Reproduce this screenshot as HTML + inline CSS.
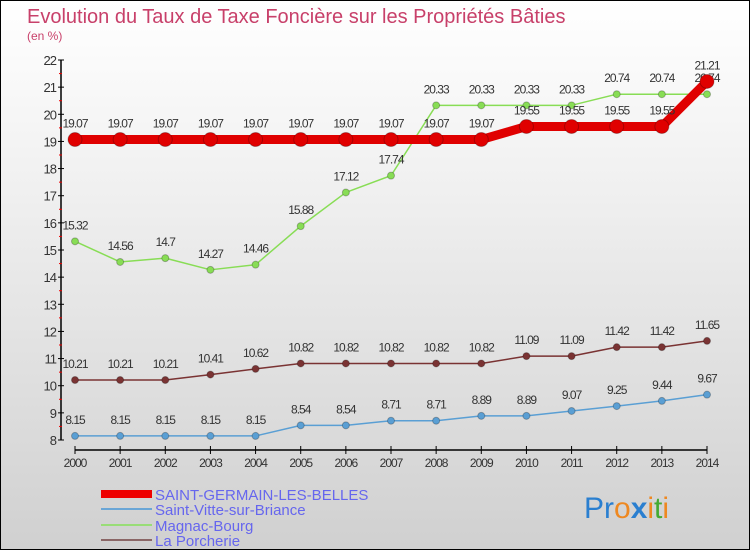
<!DOCTYPE html>
<html><head><meta charset="utf-8"><style>
body{margin:0}
#c{position:relative;width:748px;height:548px;border:1px solid #000;background:linear-gradient(#fff,#f2f2f2 30%,#d0d0d0);font-family:"Liberation Sans",sans-serif;overflow:hidden}
</style></head><body>
<div id="c">
<svg id="s" width="748" height="548" xmlns="http://www.w3.org/2000/svg">
<text x="26" y="22" font-size="20" fill="#c8406a">Evolution du Taux de Taxe Foncière sur les Propriétés Bâties</text>
<text x="26" y="39" font-size="12" fill="#c8406a">(en %)</text>
<g id="axes"></g><g id="series"></g>
<g>
<rect x="100" y="489" width="51" height="8" fill="#e00"/>
<text x="154" y="499" font-size="15" fill="#6666ee">SAINT-GERMAIN-LES-BELLES</text>
<rect x="100" y="507" width="51" height="2" fill="#6aa6d6"/>
<text x="154" y="514" font-size="15" fill="#6666ee">Saint-Vitte-sur-Briance</text>
<rect x="100" y="523" width="51" height="2" fill="#99dd77"/>
<text x="154" y="530" font-size="15" fill="#6666ee">Magnac-Bourg</text>
<rect x="100" y="538" width="51" height="2" fill="#8a6666"/>
<text x="154" y="545" font-size="15" fill="#6666ee">La Porcherie</text>
</g>
<text x="583" y="517" font-size="30"><tspan fill="#2a7fd0">Pr</tspan><tspan fill="#ee8820">o</tspan><tspan fill="#2a7fd0" font-weight="bold">x</tspan><tspan fill="#ee8820">i</tspan><tspan fill="#44aa33">t</tspan><tspan fill="#ee8820">i</tspan></text>
</svg></div>
<script>
const years=[2000,2001,2002,2003,2004,2005,2006,2007,2008,2009,2010,2011,2012,2013,2014];
const yTicks=[8,9,10,11,12,13,14,15,16,17,18,19,20,21,22];
const stGermain=[19.07,19.07,19.07,19.07,19.07,19.07,19.07,19.07,19.07,19.07,19.55,19.55,19.55,19.55,21.21];
const stVitte=[8.15,8.15,8.15,8.15,8.15,8.54,8.54,8.71,8.71,8.89,8.89,9.07,9.25,9.44,9.67];
const magnac=[15.32,14.56,14.7,14.27,14.46,15.88,17.12,17.74,20.33,20.33,20.33,20.33,20.74,20.74,20.74];
const porcherie=[10.21,10.21,10.21,10.41,10.62,10.82,10.82,10.82,10.82,10.82,11.09,11.09,11.42,11.42,11.65];
const NS="http://www.w3.org/2000/svg";
const X=i=>74+i*(632/14);
const Y=v=>439-(v-8)*(380/14);
function el(t,a,p){const e=document.createElementNS(NS,t);for(const k in a)e.setAttribute(k,a[k]);p.appendChild(e);return e;}
const ax=document.getElementById('axes'),sg=document.getElementById('series');
let l=el('line',{x1:60,y1:Y(22),x2:60,y2:Y(8),stroke:'#000','stroke-width':1.5},ax);


l=el('line',{x1:74,y1:449,x2:706,y2:449,stroke:'#000','stroke-width':1.5},ax);


yTicks.forEach(v=>{
 el('line',{x1:57,y1:Y(v),x2:63,y2:Y(v),stroke:'#000'},ax);
 if(v<22)el('line',{x1:58,y1:Y(v+0.5),x2:61,y2:Y(v+0.5),stroke:'#e00'},ax);
 const t=el('text',{x:55,y:Y(v)+5,'font-size':13,fill:'#333','text-anchor':'end','letter-spacing':'-1'},ax);
 
 
 t.textContent=v;
});
years.forEach((y,i)=>{
 el('line',{x1:X(i),y1:445,x2:X(i),y2:453,stroke:'#000'},ax);
 const t=el('text',{x:X(i),y:466,'font-size':12,fill:'#333','text-anchor':'middle','letter-spacing':'-1'},ax);
 
 
 t.textContent=y;
});
function series(d,col,w,r,name){
 const g=el('g',{},sg);
 
 
 const p=el('polyline',{points:d.map((v,i)=>X(i)+','+Y(v)).join(' '),fill:'none',stroke:col,'stroke-width':w,'stroke-linejoin':'round'},g);
 
 
 d.forEach((v,i)=>{
  const c=el('circle',{cx:X(i),cy:Y(v),r:r,fill:col,stroke:'rgba(0,0,0,0.25)'},g);
  
  
  const t=el('text',{x:X(i),y:Y(v)-12,'font-size':12,fill:'#333','text-anchor':'middle','letter-spacing':'-1'},g);
  
  
  t.textContent=v;
 });
}
series(stVitte,'#5a9fd4',1.5,3.5,'saint-vitte-series');
series(porcherie,'#7a3333',1.5,3.5,'porcherie-series');
series(magnac,'#88dd55',1.5,3.5,'magnac-series');
series(stGermain,'#e00000',9,7,'saint-germain-series');
</script>
</body></html>
